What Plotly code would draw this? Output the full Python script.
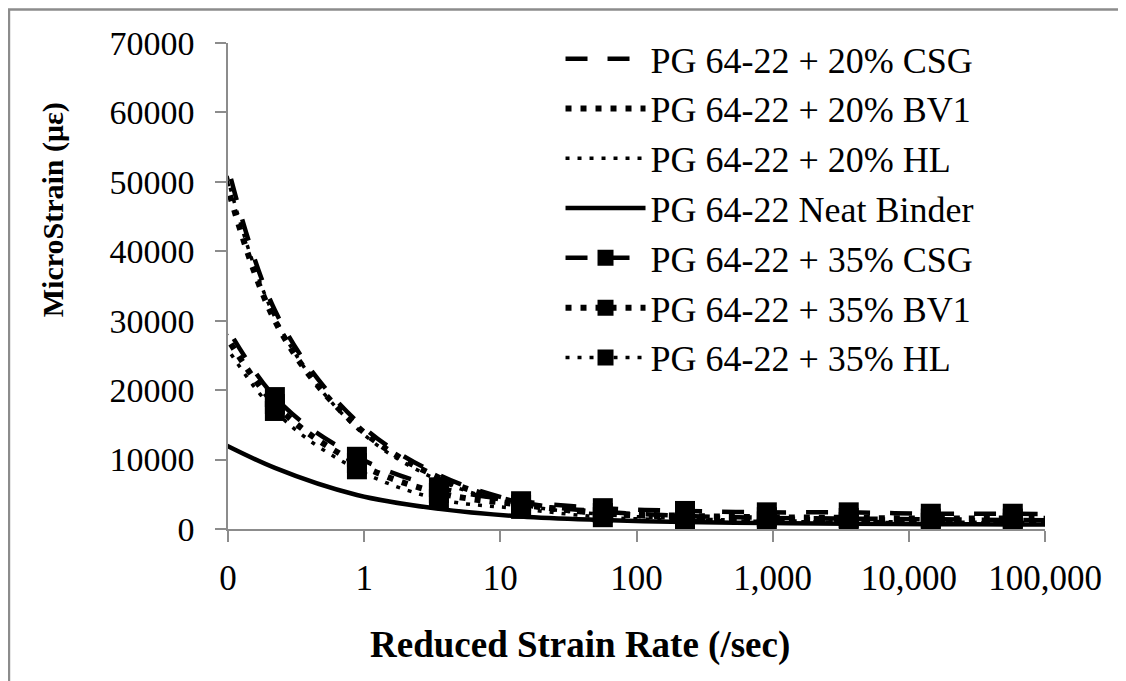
import plotly.graph_objects as go

# reduced strain rate (/sec), same points for every curve (factor ~4 apart)
rate = [0.0553, 0.221, 0.885, 3.54, 14.2, 56.6, 227, 906, 3620, 14500, 58000, 232000]

# microstrain
csg_20 = [74000, 31500, 15500, 7800, 3900, 2500, 1900, 1600, 1500, 1400, 1300, 1250]
bv1_20 = [69000, 30000, 14800, 7400, 3700, 2300, 1700, 1400, 1300, 1200, 1100, 1050]
hl_20 = [71000, 30500, 14500, 7000, 3500, 2100, 1500, 1200, 1100, 1000, 950, 900]
neat = [14500, 8800, 4900, 2900, 1800, 1300, 1000, 850, 750, 700, 650, 620]
csg_35 = [38000, 19000, 10400, 6000, 4000, 3000, 2600, 2400, 2400, 2200, 2200, 2100]
bv1_35 = [36000, 18000, 9500, 5200, 3500, 2300, 1900, 1700, 1600, 1500, 1500, 1400]
hl_35 = [34000, 17000, 8600, 4300, 2900, 1700, 1300, 1100, 1000, 900, 900, 850]

x_tickvals = [0.1, 1, 10, 100, 1000, 10000, 100000]
x_ticktext = ["0", "1", "10", "100", "1,000", "10,000", "100,000"]

FONT = "Times New Roman, Liberation Serif, serif"
GRAY = "#8c8c8c"

# name, values, dash, width, markers?
series = [
    ("PG 64-22 + 20% CSG", csg_20, "22px,20px", 4.5, False),
    ("PG 64-22 + 20% BV1", bv1_20, "6px,9px", 6, False),
    ("PG 64-22 + 20% HL", hl_20, "4px,8px", 3.5, False),
    ("PG 64-22 Neat Binder", neat, "solid", 4.5, False),
    ("PG 64-22 + 35% CSG", csg_35, "22px,20px", 4.5, True),
    ("PG 64-22 + 35% BV1", bv1_35, "6px,9px", 6, True),
    ("PG 64-22 + 35% HL", hl_35, "4px,8px", 3.5, True),
]

fig = go.Figure()
for i, (name, vals, dash, w, mk) in enumerate(series):
    fig.add_trace(go.Scatter(
        x=rate, y=vals, name=name,
        mode="lines+markers" if mk else "lines",
        line=dict(color="black", width=w, dash=dash, shape="spline", smoothing=1),
        marker=dict(symbol="square", size=20, color="black"),
        legendgroup=str(i),
    ))

# page body has an 8px margin, so the figure is 8px smaller each way
fig.update_layout(
    width=1118, height=673,
    margin=dict(l=220, r=81, t=35, b=152),
    plot_bgcolor="white", paper_bgcolor="white",
    font=dict(family=FONT, color="black", size=35),
    legend=dict(
        x=0.407, y=0.66, xanchor="left", yanchor="middle",
        font=dict(size=36), itemwidth=80, tracegroupgap=0,
        bgcolor="rgba(0,0,0,0)",
    ),
    showlegend=True,
)

fig.update_xaxes(
    type="log", range=[-1, 5],
    tickvals=x_tickvals, ticktext=x_ticktext,
    showgrid=False, zeroline=False,
    showline=True, linecolor=GRAY, linewidth=1.5,
    ticks="outside", ticklen=11, tickcolor=GRAY, tickwidth=1.5,
    ticklabelstandoff=6,
)
fig.update_yaxes(
    range=[0, 70000], dtick=10000, tickformat="d",
    showgrid=False, zeroline=False,
    showline=True, linecolor=GRAY, linewidth=1.5,
    ticks="outside", ticklen=11, tickcolor=GRAY, tickwidth=1.5,
    ticklabelstandoff=14, tickfont=dict(size=34),
)

# axis titles sit off-centre in the original, so place them as annotations
fig.add_annotation(text="<b>Reduced Strain Rate (/sec)</b>", xref="paper", yref="paper",
                   x=0.431, y=-0.2387, showarrow=False, font=dict(size=37),
                   xanchor="center", yanchor="middle")
fig.add_annotation(text="<b>MicroStrain (με)</b>", xref="paper", yref="paper",
                   x=-0.2142, y=0.658, showarrow=False, font=dict(size=30), textangle=-90,
                   xanchor="center", yanchor="middle")

# chart-area frame
fig.add_shape(type="rect", xref="paper", yref="paper",
              x0=-0.2681, x1=1.0942, y0=-0.35, y1=1.0689,
              line=dict(color=GRAY, width=2.5), fillcolor="rgba(0,0,0,0)", layer="below")

fig.write_html("out.html")
